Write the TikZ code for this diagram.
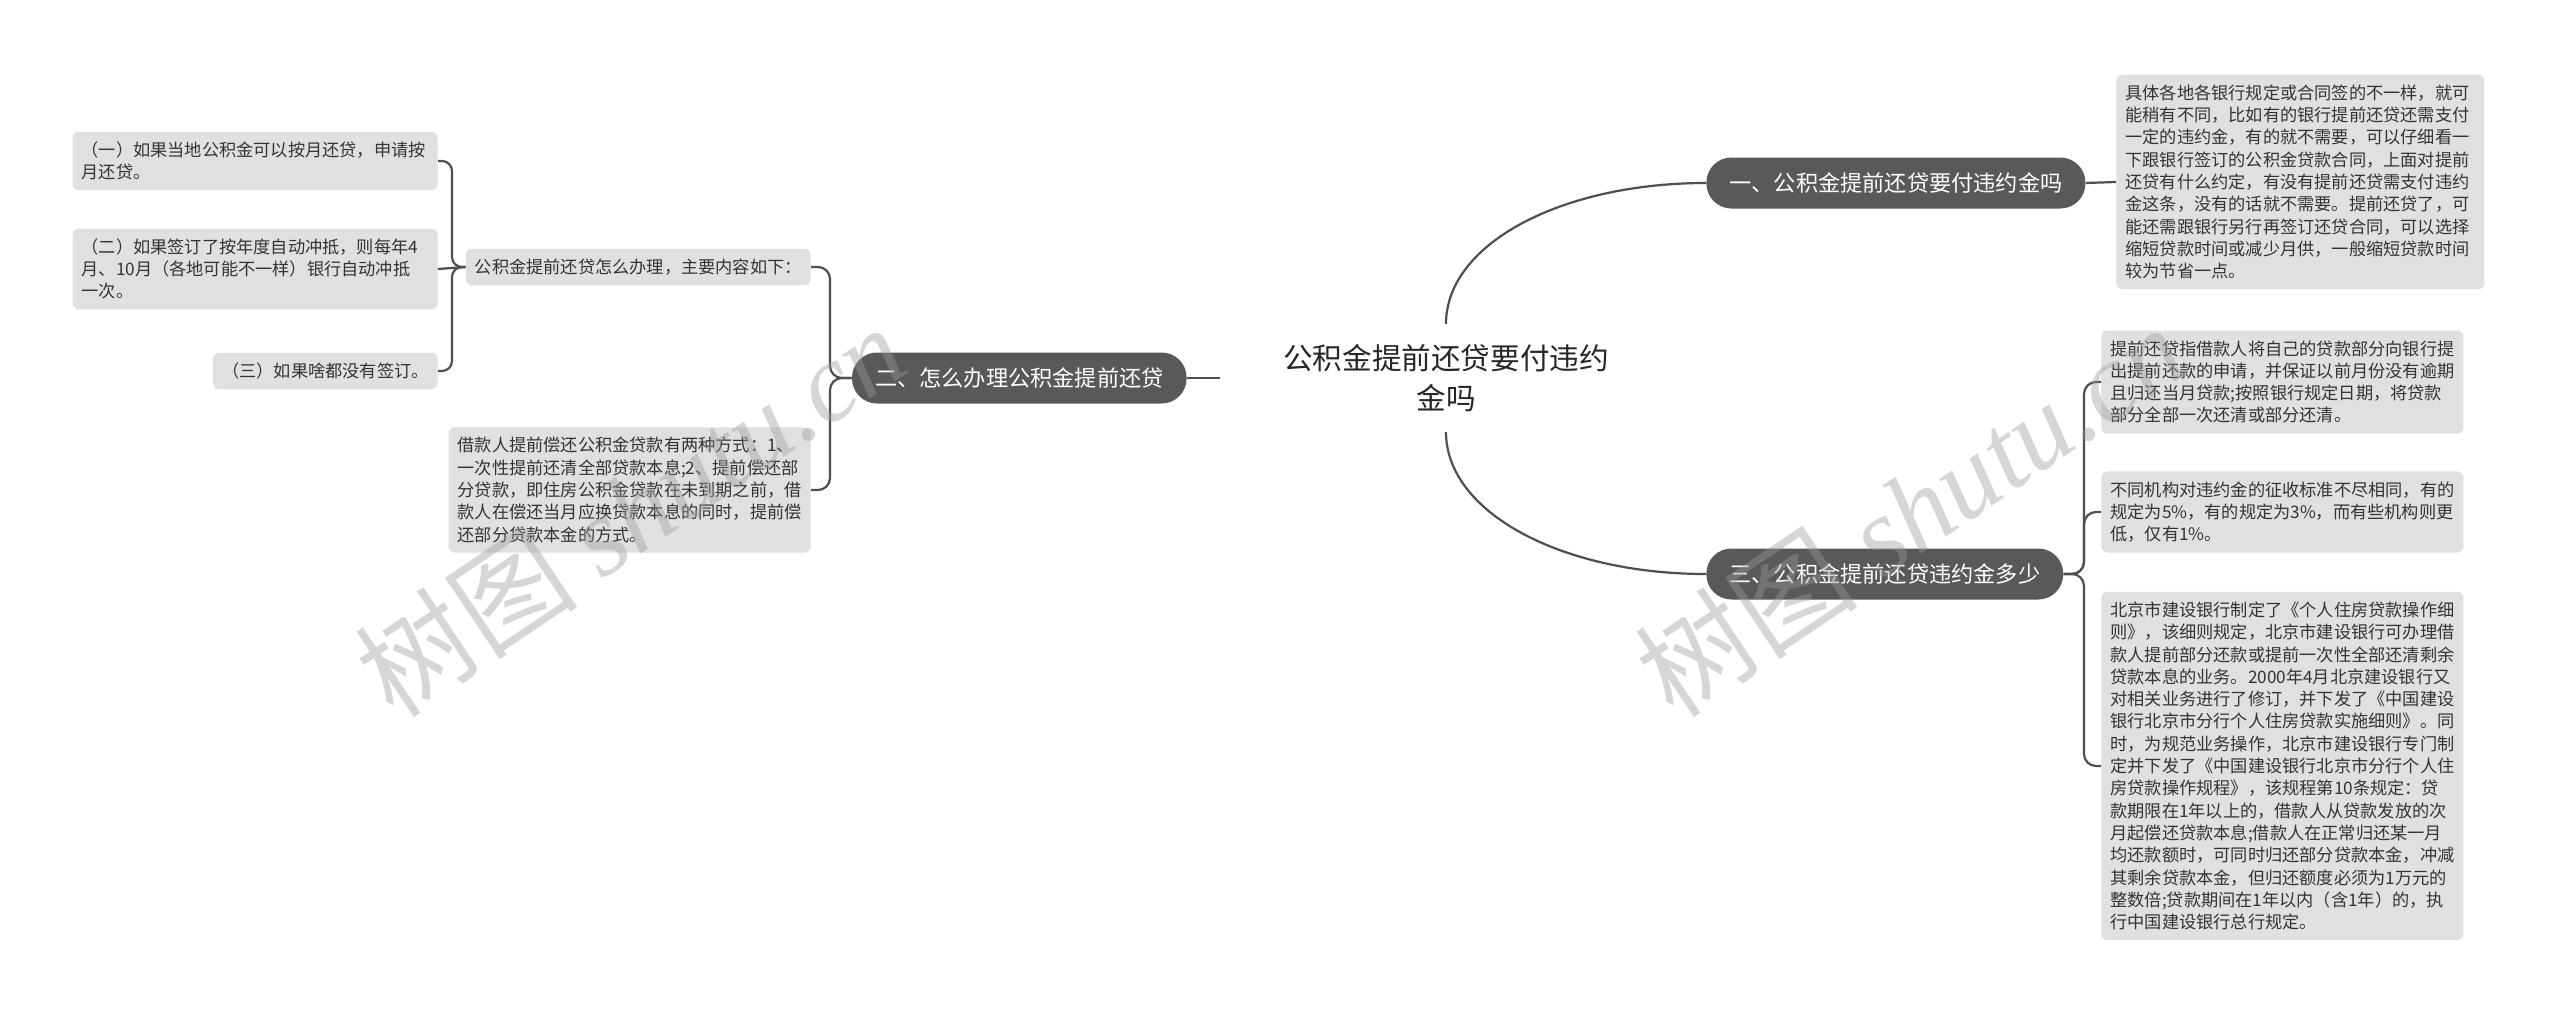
\documentclass[tikz,border=0pt]{standalone}
\usepackage{fontspec}
\setmainfont{Noto Sans CJK SC}
\newfontfamily\wmserif{Liberation Serif}
\usetikzlibrary{calc}
\definecolor{pillgray}{HTML}{595959}
\definecolor{leafgray}{HTML}{E0E0E0}
\definecolor{linegray}{HTML}{4F4F4F}
\definecolor{txt}{HTML}{333333}
\definecolor{wmgray}{HTML}{9A9A9A}
\begin{document}
\begin{tikzpicture}[x=0.5pt,y=-0.5pt,
  conn/.style={draw=linegray, line width=1.1pt},
  pill/.style={fill=pillgray, text=white, rounded corners=12.5pt, inner xsep=11.5pt, inner ysep=0pt, minimum height=25.5pt, font=\fontsize{11.1pt}{13pt}\selectfont},
  leaf/.style={fill=leafgray, text=txt, rounded corners=3pt, inner xsep=4.5pt, inner ysep=5pt, align=left, font=\fontsize{8.6pt}{11.15pt}\selectfont},
  rootnode/.style={text=black!85, align=center, inner xsep=31.5pt, inner ysep=10pt, font=\fontsize{14.8pt}{20pt}\selectfont},
  wm/.style={text=wmgray, text opacity=0.4, rotate=34, font=\fontsize{56pt}{60pt}\selectfont}
]
\fill[white] (0,0) rectangle (2560,1017);
\useasboundingbox (0,0) rectangle (2560,1017);

% root
\node[rootnode] (root) at (1446,378) {公积金提前还贷要付违约\\金吗};

% main branches
\node[pill, anchor=west] (P1) at (1706,183) {一、公积金提前还贷要付违约金吗};
\node[pill, anchor=east] (P2) at (1187,378) {二、怎么办理公积金提前还贷};
\node[pill, anchor=west] (P3) at (1706,574) {三、公积金提前还贷违约金多少};

% branch 1 leaf
\node[leaf, anchor=west, text width=175pt] (L1) at (2116,182) {具体各地各银行规定或合同签的不一样，就可\\
能稍有不同，比如有的银行提前还贷还需支付\\
一定的违约金，有的就不需要，可以仔细看一\\
下跟银行签订的公积金贷款合同，上面对提前\\
还贷有什么约定，有没有提前还贷需支付违约\\
金这条，没有的话就不需要。提前还贷了，可\\
能还需跟银行另行再签订还贷合同，可以选择\\
缩短贷款时间或减少月供，一般缩短贷款时间\\
较为节省一点。};

% branch 3 leaves
\node[leaf, anchor=west, text width=172pt] (A) at (2101,382) {提前还贷指借款人将自己的贷款部分向银行提\\
出提前还款的申请，并保证以前月份没有逾期\\
且归还当月贷款;按照银行规定日期，将贷款\\
部分全部一次还清或部分还清。};
\node[leaf, anchor=west, text width=172pt] (B) at (2101,512) {不同机构对违约金的征收标准不尽相同，有的\\
规定为5\%，有的规定为3\%，而有些机构则更\\
低，仅有1\%。};
\node[leaf, anchor=west, text width=172pt] (C) at (2101,766) {北京市建设银行制定了《个人住房贷款操作细\\
则》，该细则规定，北京市建设银行可办理借\\
款人提前部分还款或提前一次性全部还清剩余\\
贷款本息的业务。2000年4月北京建设银行又\\
对相关业务进行了修订，并下发了《中国建设\\
银行北京市分行个人住房贷款实施细则》。同\\
时，为规范业务操作，北京市建设银行专门制\\
定并下发了《中国建设银行北京市分行个人住\\
房贷款操作规程》，该规程第10条规定：贷\\
款期限在1年以上的，借款人从贷款发放的次\\
月起偿还贷款本息;借款人在正常归还某一月\\
均还款额时，可同时归还部分贷款本金，冲减\\
其剩余贷款本金，但归还额度必须为1万元的\\
整数倍;贷款期间在1年以内（含1年）的，执\\
行中国建设银行总行规定。};

% branch 2 subnodes
\node[leaf, anchor=east] (S1) at (811,267) {公积金提前还贷怎么办理，主要内容如下：};
\node[leaf, anchor=east, text width=172pt] (S2) at (811,490) {借款人提前偿还公积金贷款有两种方式：1、\\
一次性提前还清全部贷款本息;2、提前偿还部\\
分贷款，即住房公积金贷款在未到期之前，借\\
款人在偿还当月应换贷款本息的同时，提前偿\\
还部分贷款本金的方式。};

\node[leaf, anchor=east, text width=173.5pt] (Q1) at (438,161) {（一）如果当地公积金可以按月还贷，申请按\\
月还贷。};
\node[leaf, anchor=east, text width=173.5pt] (Q2) at (438,269) {（二）如果签订了按年度自动冲抵，则每年4\\
月、10月（各地可能不一样）银行自动冲抵\\
一次。};
\node[leaf, anchor=east] (Q3) at (438,371) {（三）如果啥都没有签订。};

% junctions
\coordinate (J3) at (2084,574);
\coordinate (J2) at (830,378);
\coordinate (J1) at (452,267);

% connectors
\draw[conn] (root.north) .. controls +(0,-80) and +(-145,0) .. (P1.west);
\draw[conn] (root.south) .. controls +(0,80) and +(-145,0) .. (P3.west);
\draw[conn] (root.west) -- (P2.east);
\draw[conn] (P1.east) -- (L1.west);
\draw[conn, rounded corners=6pt] (P3.east) -- (J3) |- (A.west);
\draw[conn, rounded corners=6pt] (P3.east) -- (J3) |- (B.west);
\draw[conn, rounded corners=6pt] (P3.east) -- (J3) |- (C.west);
\draw[conn, rounded corners=6pt] (P2.west) -- (J2) |- (S1.east);
\draw[conn, rounded corners=6pt] (P2.west) -- (J2) |- (S2.east);
\draw[conn, rounded corners=5pt] (S1.west) -- (J1) |- (Q1.east);
\draw[conn] (S1.west) -- (Q2.east);
\draw[conn, rounded corners=5pt] (S1.west) -- (J1) |- (Q3.east);

% watermarks
\node[wm] (wm1) at (630,510) {树图 {\wmserif\itshape shutu.cn}};
\node[wm] (wm2) at (1910,510) {树图 {\wmserif\itshape shutu.cn}};
\end{tikzpicture}
\end{document}
